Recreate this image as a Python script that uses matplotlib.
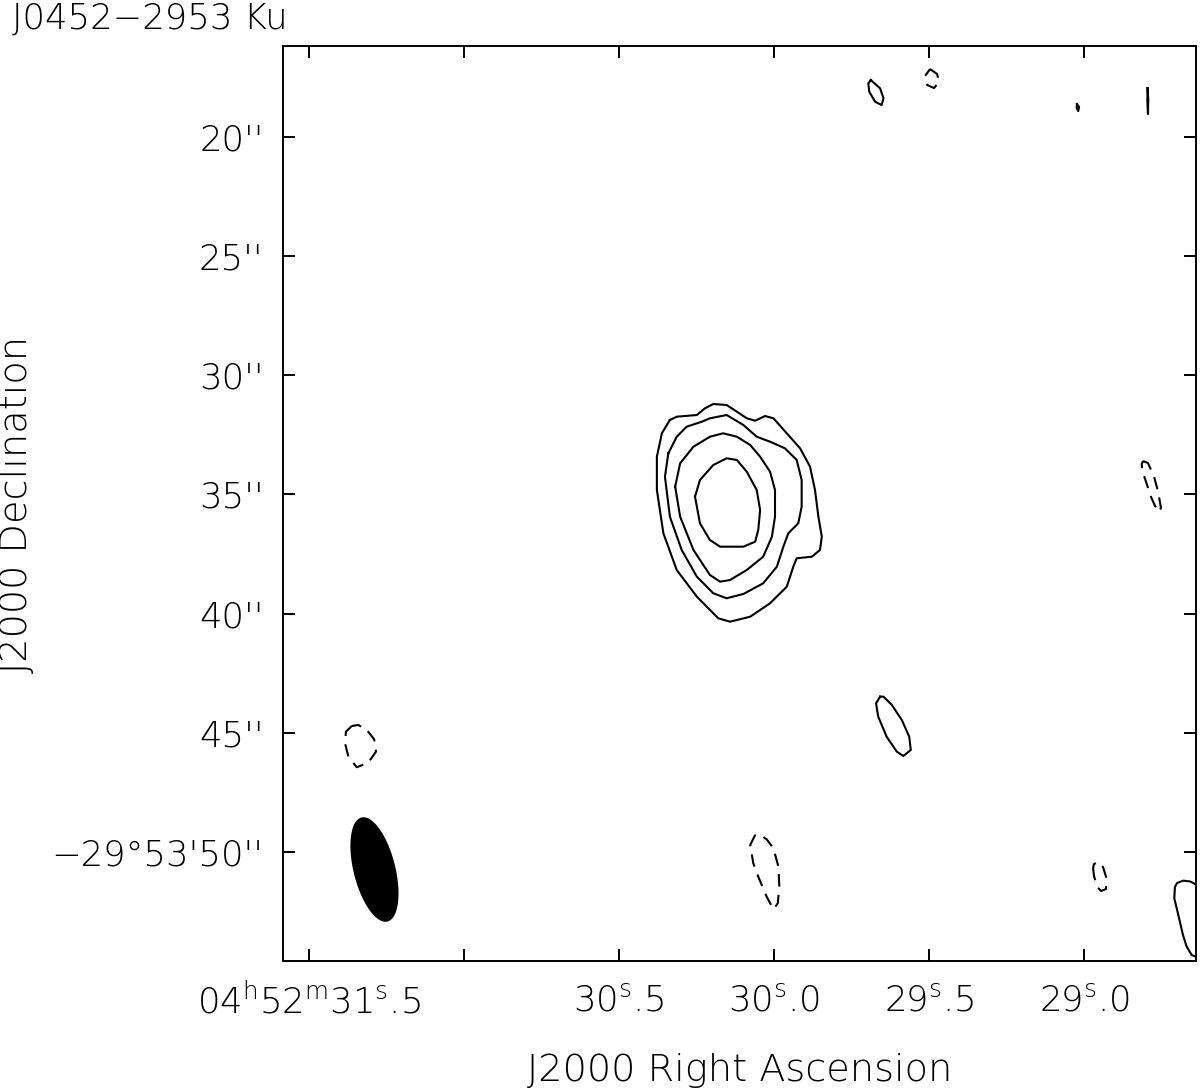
import numpy as np
import matplotlib
matplotlib.use("Agg")
import matplotlib.pyplot as plt

# ---------------- data ----------------
title = "J0452\u22122953 Ku"
xlabel = "J2000 Right Ascension"
ylabel = "J2000 Declination"

# RA in seconds of time (04h52m + s), Dec in arcsec (-29d53' + ")
ra_ticks = [31.5, 31.0, 30.5, 30.0, 29.5, 29.0]
ra_labels = [r"04$^{\rm h}$52$^{\rm m}$31$^{\rm s}$.5", "",
             r"30$^{\rm s}$.5", r"30$^{\rm s}$.0", r"29$^{\rm s}$.5", r"29$^{\rm s}$.0"]
dec_ticks = [20, 25, 30, 35, 40, 45, 50]
dec_labels = ["20''", "25''", "30''", "35''", "40''", "45''", "\u221229\u00b053'50''"]

# Source contours (positive levels, outermost to innermost)
c1_ra = [30.336, 30.314, 30.249, 30.223, 30.196, 30.153, 30.120, 30.088, 30.061, 30.029,
         30.002, 29.959, 29.916, 29.884, 29.868, 29.857, 29.846, 29.852, 29.878, 29.927,
         29.938, 29.959, 30.013, 30.077, 30.142, 30.180, 30.249, 30.314, 30.357, 30.378,
         30.378, 30.362]
c1_dec = [31.876, 31.737, 31.666, 31.385, 31.204, 31.246, 31.527, 31.805, 31.905, 31.708,
          31.805, 32.434, 33.064, 33.835, 34.813, 35.934, 36.773, 37.331, 37.612, 37.680,
          38.032, 38.871, 39.568, 40.130, 40.340, 40.197, 39.291, 38.170, 36.631, 34.813,
          33.416, 32.434]

c2_ra = [30.341, 30.314, 30.282, 30.233, 30.207, 30.153, 30.099, 30.056, 30.013, 29.965,
         29.927, 29.911, 29.911, 29.922, 29.954, 29.970, 29.991, 30.035, 30.099, 30.153,
         30.196, 30.249, 30.298, 30.336, 30.352]
c2_dec = [33.273, 32.577, 32.157, 31.947, 31.805, 31.666, 32.086, 32.577, 32.786, 33.064,
          33.554, 34.394, 35.514, 36.211, 36.631, 37.192, 38.032, 38.729, 39.177, 39.358,
          39.148, 38.452, 37.331, 35.934, 34.255]

c3_ra = [30.319, 30.303, 30.260, 30.207, 30.164, 30.120, 30.077, 30.045, 30.013, 29.997,
         29.997, 30.007, 30.035, 30.088, 30.142, 30.174, 30.207, 30.260, 30.303]
c3_dec = [34.675, 33.693, 32.996, 32.577, 32.434, 32.577, 32.925, 33.416, 34.045, 34.813,
          35.934, 36.773, 37.612, 38.170, 38.590, 38.661, 38.380, 37.331, 35.934]

c4_ra = [30.255, 30.239, 30.196, 30.153, 30.120, 30.088, 30.056, 30.045, 30.051, 30.061,
         30.099, 30.174, 30.207, 30.239]
c4_dec = [35.095, 34.394, 33.764, 33.483, 33.554, 34.045, 34.813, 35.653, 36.492, 36.983,
          37.192, 37.192, 36.911, 36.211]

# Small positive (solid) noise contours
p1_ra = [29.688, 29.658, 29.647, 29.653, 29.674, 29.693, 29.696]
p1_dec = [17.608, 17.956, 18.376, 18.657, 18.519, 18.099, 17.747]
p2_ra = [29.023, 29.016, 29.019, 29.024]
p2_dec = [18.615, 18.741, 18.909, 18.783]
p3_ra = [28.795, 28.793, 28.794, 28.796]
p3_dec = [17.944, 18.447, 19.035, 18.447]
p4_ra = [29.658, 29.671, 29.664, 29.637, 29.604, 29.583, 29.559, 29.564, 29.588, 29.620, 29.647]
p4_dec = [43.487, 43.764, 44.326, 45.166, 45.795, 45.976, 45.724, 45.166, 44.465, 43.836, 43.487]
# open contour leaving the field at the lower right
p5_ra = [28.619, 28.636, 28.658, 28.680, 28.700, 28.707, 28.709, 28.700, 28.690, 28.681,
         28.669, 28.653, 28.636, 28.619]
p5_dec = [51.515, 51.389, 51.242, 51.208, 51.305, 51.473, 51.947, 52.438, 52.984, 53.487,
          53.978, 54.327, 54.423, 54.453]

# Negative (dashed) contours
n1_ra = [29.497, 29.474, 29.468, 29.484, 29.506, 29.513]
n1_dec = [17.147, 17.356, 17.692, 17.944, 17.818, 17.440]
n2_ra = [28.810, 28.794, 28.774, 28.761, 28.752, 28.758, 28.771, 28.784, 28.800, 28.813, 28.814]
n2_dec = [33.596, 33.680, 34.268, 34.897, 35.569, 35.736, 35.485, 35.107, 34.478, 33.974, 33.722]
n3_ra = [31.362, 31.381, 31.384, 31.373, 31.346, 31.309, 31.284, 31.290, 31.316, 31.342]
n3_dec = [44.717, 44.956, 45.443, 46.005, 46.450, 46.257, 45.795, 45.275, 44.843, 44.675]
n4_ra = [30.061, 30.077, 30.067, 30.051, 30.024, 30.002, 29.988, 29.983, 29.986, 30.002, 30.024, 30.045]
n4_dec = [49.291, 49.711, 50.479, 51.041, 51.880, 52.409, 52.157, 51.461, 50.621, 49.849, 49.472, 49.291]
n5_ra = [28.971, 28.968, 28.958, 28.945, 28.929, 28.929, 28.939, 28.955, 28.968]
n5_dec = [50.676, 51.011, 51.473, 51.641, 51.557, 51.054, 50.634, 50.424, 50.508]

# Restoring beam (arcsec, deg) and its centre
beam_major = 4.5
beam_minor = 1.75
beam_pa = 14.0
beam_ra = 31.289
beam_dec = 50.74
dec_deg = -29.9

# ---------------- figure ----------------
plt.rcParams['font.family'] = ['DejaVu Sans']
plt.rcParams['font.weight'] = 'light'
fig = plt.figure(figsize=(12, 10.92), dpi=100)
ax = fig.add_axes([283 / 1200, 1 - 961 / 1092, 913 / 1200, 915 / 1092])

lw = 1.5
closed = [(c1_ra, c1_dec), (c2_ra, c2_dec), (c3_ra, c3_dec), (c4_ra, c4_dec),
          (p1_ra, p1_dec), (p2_ra, p2_dec), (p3_ra, p3_dec), (p4_ra, p4_dec)]
for r, d in closed:
    ax.plot(list(r) + [r[0]], list(d) + [d[0]], color='black', lw=lw, solid_joinstyle='round')
ax.plot(p5_ra, p5_dec, color='black', lw=lw)

dashed = [(n1_ra, n1_dec), (n2_ra, n2_dec), (n3_ra, n3_dec), (n4_ra, n4_dec), (n5_ra, n5_dec)]
for r, d in dashed:
    ax.plot(list(r) + [r[0]], list(d) + [d[0]], color='black', lw=lw,
            linestyle=(0, (6, 4)))

# beam
t = np.linspace(0, 2 * np.pi, 200)
pa = np.deg2rad(beam_pa)
a = beam_major / 2
b = beam_minor / 2
dE = a * np.cos(t) * np.sin(pa) + b * np.sin(t) * np.cos(pa)
dN = a * np.cos(t) * np.cos(pa) - b * np.sin(t) * np.sin(pa)
sec_scale = 15 * np.cos(np.deg2rad(dec_deg))
ax.fill(beam_ra + dE / sec_scale, beam_dec - dN, color='black', lw=0)

ax.set_xlim(31.584, 28.639)
ax.set_ylim(54.58, 16.18)

ax.set_xticks(ra_ticks)
ax.set_xticklabels(ra_labels)
ax.set_yticks(dec_ticks)
ax.set_yticklabels(dec_labels)
ax.tick_params(axis='y', pad=14)
ax.tick_params(axis='x', pad=16)
ax.tick_params(direction='in', length=8.5, width=1.4, top=True, right=True,
               labelsize=25.5, color='black')
ax.minorticks_off()
for s in ax.spines.values():
    s.set_linewidth(1.4)

fig.text(12 / 1200, 1 - 29 / 1092, title, fontsize=25.5, ha='left', va='baseline')
fig.text(740 / 1200, 1 - 1070 / 1092, xlabel, fontsize=27.5, ha='center', va='center')
fig.text(17 / 1200, 1 - 504 / 1092, ylabel, fontsize=27.5, ha='center', va='center',
         rotation=90)

fig.savefig("out.png", dpi=100, facecolor='white')
